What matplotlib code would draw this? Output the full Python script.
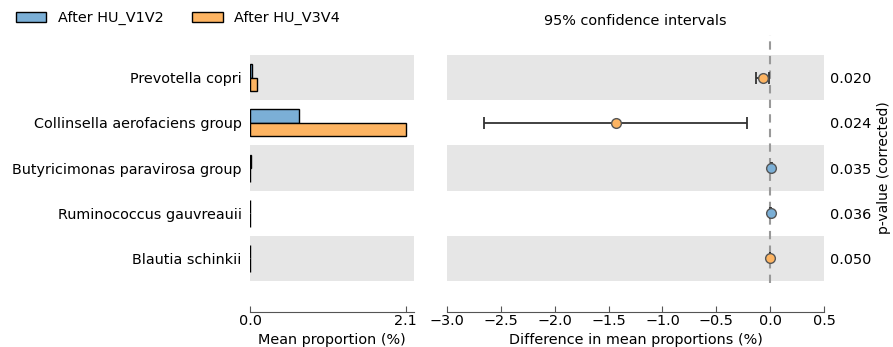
import matplotlib
matplotlib.use("Agg")
import matplotlib.pyplot as plt
import matplotlib.patches as mpatches
import numpy as np

taxa = ['Prevotella copri', 'Collinsella aerofaciens group',
        'Butyricimonas paravirosa group', 'Ruminococcus gauvreauii',
        'Blautia schinkii']
v1v2 = [0.03, 0.66, 0.012, 0.004, 0.003]
v3v4 = [0.10, 2.10, 0.004, 0.002, 0.005]
diff = [-0.07, -1.43, 0.008, 0.002, -0.003]
ci_low = [-0.13, -2.65, 0.003, 0.0005, -0.006]
ci_high = [-0.01, -0.22, 0.013, 0.004, -0.0005]
pvals = ['0.020', '0.024', '0.035', '0.036', '0.050']
groups = ['After HU_V1V2', 'After HU_V3V4']
diff_ticks = [-3.0, -2.5, -2.0, -1.5, -1.0, -0.5, 0.0, 0.5]

c1 = '#7BAFD6'
c2 = '#FDB462'
band = '#E6E6E6'
fs = 10.4

fig = plt.figure(figsize=(8.93, 3.47), dpi=100)
axL = fig.add_axes([0.28, 0.190, 0.1837, 0.6513])
axR = fig.add_axes([0.5002, 0.190, 0.4229, 0.6513])

n = len(taxa)
y = np.arange(n)
h = 0.3

for ax in (axL, axR):
    for i in range(0, n, 2):
        ax.axhspan(i - 0.5, i + 0.5, color=band, zorder=0, lw=0)
    ax.set_ylim(n - 0.5, -0.5)
    for s in ('top', 'right', 'left'):
        ax.spines[s].set_visible(False)
    ax.spines['bottom'].set_position(('outward', 22))
    ax.spines['bottom'].set_color('#555555')
    ax.tick_params(axis='x', direction='in', length=4, color='#555555',
                   labelsize=fs, pad=2)

# left: mean proportions
axL.barh(y - h / 2, v1v2, height=h, color=c1, edgecolor='black', lw=1.0, zorder=2)
axL.barh(y + h / 2, v3v4, height=h, color=c2, edgecolor='black', lw=1.0, zorder=2)
vmax = max(max(v1v2), max(v3v4))
axL.set_xlim(0, vmax * 1.053)
axL.set_xticks([0, vmax])
axL.set_xticklabels(['0.0', f'{vmax:.1f}'])
axL.set_yticks(y)
axL.set_yticklabels(taxa, fontsize=fs)
axL.tick_params(axis='y', length=0, pad=6)
axL.set_xlabel('Mean proportion (%)', fontsize=fs, labelpad=3)

# right: differences with CI
axR.axvline(0, ymin=-0.01, ymax=1.09, color='#999999', lw=1.5,
            linestyle=(0, (4, 3)), zorder=1, clip_on=False)
for i in range(n):
    col = c2 if diff[i] < 0 else c1
    axR.errorbar(diff[i], y[i],
                 xerr=[[diff[i] - ci_low[i]], [ci_high[i] - diff[i]]],
                 fmt='o', color='#333333', ecolor='#333333', elinewidth=1.3,
                 capsize=4, capthick=1.3, markerfacecolor=col,
                 markeredgecolor='#555555', markersize=7, zorder=3)
axR.set_xlim(diff_ticks[0], diff_ticks[-1])
axR.set_xticks(diff_ticks)
axR.set_xticklabels([f'{t:.1f}'.replace('-', '\u2212') for t in diff_ticks])
axR.set_xlabel('Difference in mean proportions (%)', fontsize=fs, labelpad=3)
axR.set_yticks(y)
axR.yaxis.tick_right()
axR.set_yticklabels(pvals, fontsize=fs)
axR.tick_params(axis='y', length=0, pad=4)
axR.yaxis.set_label_position('right')
axR.set_ylabel('p-value (corrected)', fontsize=fs - 0.4, labelpad=4)
axR.set_title('95% confidence intervals', fontsize=fs, pad=22)

handles = [mpatches.Patch(facecolor=c1, edgecolor='black', lw=1.0, label=groups[0]),
           mpatches.Patch(facecolor=c2, edgecolor='black', lw=1.0, label=groups[1])]
fig.legend(handles=handles, loc='upper left', bbox_to_anchor=(0.003, 1.005),
           ncol=2, frameon=False, fontsize=fs, handlelength=2.1,
           handleheight=0.7, handletextpad=0.8, columnspacing=2.0)

fig.savefig('out.png', dpi=100)
